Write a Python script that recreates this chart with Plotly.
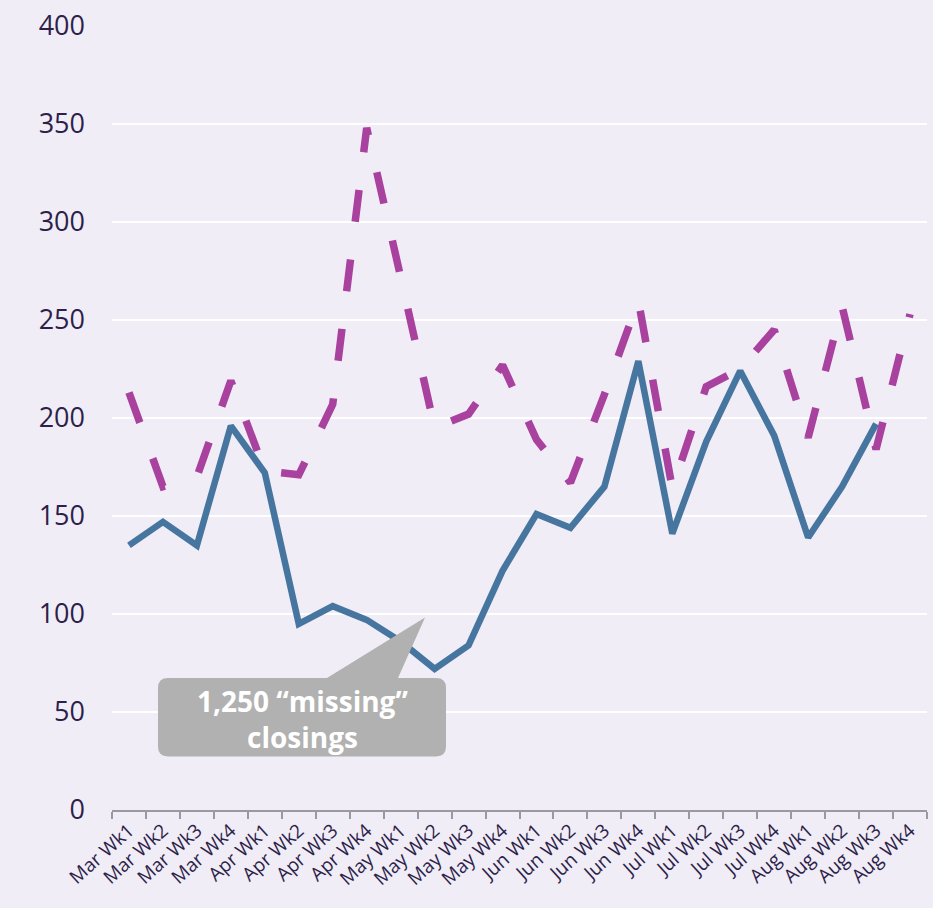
import plotly.graph_objects as go

weeks = ["Mar Wk1", "Mar Wk2", "Mar Wk3", "Mar Wk4",
         "Apr Wk1", "Apr Wk2", "Apr Wk3", "Apr Wk4",
         "May Wk1", "May Wk2", "May Wk3", "May Wk4",
         "Jun Wk1", "Jun Wk2", "Jun Wk3", "Jun Wk4",
         "Jul Wk1", "Jul Wk2", "Jul Wk3", "Jul Wk4",
         "Aug Wk1", "Aug Wk2", "Aug Wk3", "Aug Wk4"]

actual = [135, 147, 135, 196, 172, 95, 104, 97, 86, 72, 84, 122,
          151, 144, 165, 229, 141, 188, 224, 191, 139, 165, 197, None]

expected = [213, 165, 170, 219, 173, 171, 207, 348, 272, 195, 202, 227,
            189, 167, 212, 260, 164, 216, 225, 245, 190, 257, 184, 253]

BG = "#F0EDF6"
TXT = "#2D1F4A"
FONT = "Open Sans"

fig = go.Figure()
fig.add_trace(go.Scatter(x=weeks, y=expected, mode="lines", name="Expected",
                         line=dict(color="#A9419F", width=7.5, dash="32px,38px")))
fig.add_trace(go.Scatter(x=weeks, y=actual, mode="lines", name="Actual",
                         line=dict(color="#46769F", width=6.5)))

# plot area in pixels: x 112..927, y 20..810
L, R, T, B = 112, 927, 20, 810


def pp(x, y):
    return (x - L) / (R - L), (B - y) / (B - T)


# callout bubble (rounded box + pointer)
pts = [("M", 168, 677), ("L", 327, 677), ("L", 425, 616), ("L", 398, 677),
       ("L", 436, 677), ("Q", 446, 677, 446, 687), ("L", 446, 746),
       ("Q", 446, 756, 436, 756), ("L", 168, 756), ("Q", 158, 756, 158, 746),
       ("L", 158, 687), ("Q", 158, 677, 168, 677)]
path = ""
for p in pts:
    cmd, coords = p[0], p[1:]
    out = []
    for i in range(0, len(coords), 2):
        a, b = pp(coords[i], coords[i + 1])
        out.append(f"{a:.5f},{b:.5f}")
    path += cmd + " ".join(out) + " "
path += "Z"
fig.add_shape(type="path", path=path, xref="paper", yref="paper",
              fillcolor="#B0B1B0", line=dict(width=0), layer="above")

cx, cy = pp(302, 718)
fig.add_annotation(x=cx, y=cy, xref="paper", yref="paper", showarrow=False,
                   xanchor="center", yanchor="middle",
                   text="<b>1,250 “missing”<br>closings</b>",
                   font=dict(family=FONT, size=28, color="white"),
                   align="center")

fig.update_layout(
    width=933, height=908,
    margin=dict(l=L, r=933 - R, t=T, b=908 - B),
    paper_bgcolor=BG, plot_bgcolor=BG,
    showlegend=False,
    font=dict(family=FONT, color=TXT),
)
fig.update_xaxes(
    type="category", showgrid=False, showline=True, linecolor="#9A98A0",
    linewidth=2, ticks="outside", tickson="boundaries", ticklen=7,
    tickcolor="#9A98A0", tickwidth=2, tickangle=-42,
    tickfont=dict(family=FONT, size=19, color=TXT),
    range=[-0.5, len(weeks) - 0.5],
)
fig.update_yaxes(
    range=[0, 400], dtick=50, showgrid=True, gridcolor="white", gridwidth=2,
    zeroline=False, showline=False, ticks="", ticklabelstandoff=26,
    tickfont=dict(family=FONT, size=27, color=TXT),
)

fig.write_html("out.html", config={"displayModeBar": False},
               post_script="document.body.style.margin='0px';")
